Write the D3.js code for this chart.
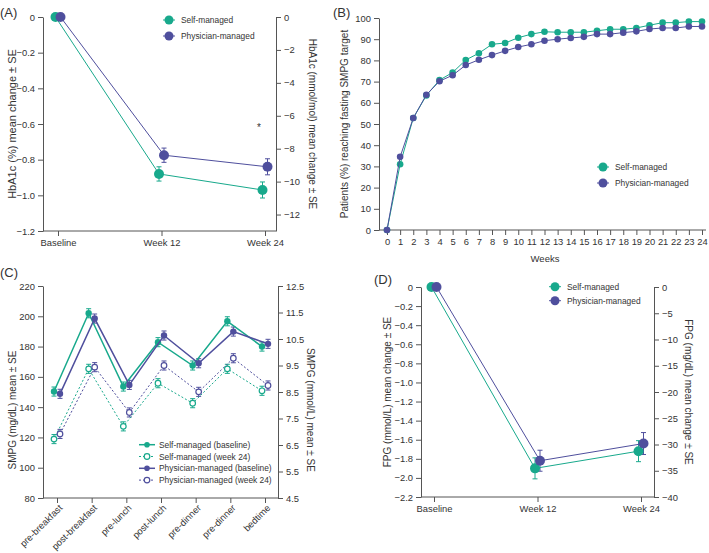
<!DOCTYPE html>
<html><head><meta charset="utf-8">
<script src="https://cdn.jsdelivr.net/npm/d3@7"></script>
<style>
body{margin:0;background:#fff;}
svg text{font-family:"Liberation Sans",Arial,sans-serif;fill:#333;}
.axis path,.axis line{stroke:#555;stroke-width:1;}
.axis text{font-size:9.4px;fill:#333;}
</style></head><body>
<svg id="chart" width="709" height="553"></svg>
<script>
// ---------- DATA ----------
const seriesNames = ["Self-managed", "Physician-managed"];
// Panel A: HbA1c change
const weeksAD = [0, 12, 24];
const weekLabelsAD = ["Baseline", "Week 12", "Week 24"];
const hba1cSelf = [0, -0.88, -0.97];
const hba1cSelfSE = [0, 0.04, 0.045];
const hba1cPhys = [0, -0.775, -0.84];
const hba1cPhysSE = [0, 0.04, 0.045];
const hba1cLeftTicks = [0, -0.2, -0.4, -0.6, -0.8, -1.0, -1.2];
const hba1cRightTicks = [0, -2, -4, -6, -8, -10, -12];
// Panel B: % reaching target by week
const weeksB = [0,1,2,3,4,5,6,7,8,9,10,11,12,13,14,15,16,17,18,19,20,21,22,23,24];
const targetSelf = [0,31,52.8,63.5,70.7,74.3,80.2,83.4,87.6,88.2,90.7,92.4,93.5,93.3,93.3,93.3,94,94.7,94.7,95.3,96.6,97.8,97.8,98.3,98.3];
const targetPhys = [0,34.5,52.8,63.8,70.2,73,77.8,80.3,82.5,84.5,86.3,87.6,89.3,90,90.6,91.1,92.4,92.4,93.1,93.7,94.8,95.3,95.3,96,96];
const targetTicks = [0,10,20,30,40,50,60,70,80,90,100];
// Panel C: SMPG profiles
const timepoints = ["pre-breakfast","post-breakfast","pre-lunch","post-lunch","pre-dinner","pre-dinner","bedtime"];
const smpgSelfBase = [150.3,202,153.6,182.9,167.5,196.7,180];
const smpgSelfW24  = [118.9,165.3,127.3,155.8,142.6,165.3,150.8];
const smpgPhysBase = [148.8,198.5,154.7,187.3,169,189.9,181.8];
const smpgPhysW24  = [122.3,166.4,136.5,167.5,150.1,172.3,154.3];
const smpgSE = 3;
const smpgLeftTicks = [80,100,120,140,160,180,200,220];
const smpgRightTicks = [4.5,5.5,6.5,7.5,8.5,9.5,10.5,11.5,12.5];
const smpgLegend = ["Self-managed (baseline)","Self-managed (week 24)","Physician-managed (baseline)","Physician-managed (week 24)"];
// Panel D: FPG change
const fpgSelf = [0, -1.90, -1.72];
const fpgSelfSE = [0, 0.11, 0.11];
const fpgPhys = [0, -1.82, -1.64];
const fpgPhysSE = [0, 0.11, 0.115];
const fpgLeftTicks = [0,-0.2,-0.4,-0.6,-0.8,-1.0,-1.2,-1.4,-1.6,-1.8,-2.0,-2.2];
const fpgRightTicks = [0,-5,-10,-15,-20,-25,-30,-35,-40];

// ---------- STYLE ----------
const TEAL = "#18a98c", PURPLE = "#4f4f9d";
const svg = d3.select("#chart");
const fmt1 = d => d === 0 ? "0" : d3.format(".1f")(d);
const fmt0 = d => d3.format("d")(d);

function label(x, y, txt, rot, size) {
  svg.append("text").attr("transform", `translate(${x},${y}) rotate(${rot||0})`)
    .attr("text-anchor", "middle").attr("dominant-baseline", "central")
    .style("font-size", (size||10) + "px").text(txt);
}
function panelTag(x, y, t) {
  svg.append("text").attr("x", x).attr("y", y).style("font-size", "13px").attr("dominant-baseline","central").text(t);
}
function errBars(g, xs, ys, ses, x, y, color, dx, cap) {
  const d = xs.map((v, i) => ({x: v, y: ys[i], se: ses[i]})).filter(p => p.se > 0);
  const eg = g.append("g").attr("stroke", color).attr("stroke-width", 1).attr("fill", "none");
  d.forEach(p => {
    const cx = x(p.x) + dx;
    eg.append("line").attr("x1", cx).attr("x2", cx).attr("y1", y(p.y - p.se)).attr("y2", y(p.y + p.se));
    eg.append("line").attr("x1", cx - cap).attr("x2", cx + cap).attr("y1", y(p.y - p.se)).attr("y2", y(p.y - p.se));
    eg.append("line").attr("x1", cx - cap).attr("x2", cx + cap).attr("y1", y(p.y + p.se)).attr("y2", y(p.y + p.se));
  });
}
function series(g, xs, ys, x, y, color, dx, r, opts) {
  opts = opts || {};
  const line = d3.line().x((d, i) => x(xs[i]) + dx).y(d => y(d));
  g.append("path").datum(ys).attr("d", line).attr("fill", "none").attr("stroke", color)
    .attr("stroke-width", opts.sw || 1).attr("stroke-dasharray", opts.dash || null);
  g.selectAll(null).data(ys).join("circle")
    .attr("cx", (d, i) => x(xs[i]) + dx).attr("cy", d => y(d)).attr("r", r)
    .attr("fill", opts.open ? "#fff" : color).attr("stroke", color).attr("stroke-width", opts.open ? 1.2 : 0);
}
function legendRow(x, y, color, txt, r, opts) {
  opts = opts || {};
  svg.append("line").attr("x1", x - (opts.half||6)).attr("x2", x + (opts.half||6)).attr("y1", y).attr("y2", y)
    .attr("stroke", color).attr("stroke-width", opts.sw || 1).attr("stroke-dasharray", opts.dash || null);
  svg.append("circle").attr("cx", x).attr("cy", y).attr("r", r)
    .attr("fill", opts.open ? "#fff" : color).attr("stroke", color).attr("stroke-width", opts.open ? 1.2 : 0);
  svg.append("text").attr("x", x + (opts.tx||12)).attr("y", y).attr("dominant-baseline", "central")
    .style("font-size", "8.4px").text(txt);
}

// ---------- PANEL A ----------
(function() {
  const x = d3.scaleLinear().domain([0, 24]).range([58, 265]);
  const y = d3.scaleLinear().domain([-1.2, 0]).range([231, 17]);
  const yr = d3.scaleLinear().domain([-13, 0]).range([231, 17]);
  const g = svg.append("g");
  g.append("g").attr("class", "axis").attr("transform", "translate(43,0)")
    .call(d3.axisLeft(y).tickValues(hba1cLeftTicks).tickFormat(fmt1).tickSize(5).tickSizeOuter(0));
  g.append("g").attr("class", "axis").attr("transform", "translate(276,0)")
    .call(d3.axisRight(yr).tickValues(hba1cRightTicks).tickFormat(fmt0).tickSize(5).tickSizeOuter(0));
  const xa = g.append("g").attr("class", "axis").attr("transform", "translate(0,231)");
  xa.call(d3.axisBottom(x).tickValues(weeksAD).tickFormat((d, i) => weekLabelsAD[i]).tickSize(5).tickSizeOuter(0));
  xa.select(".domain").remove();
  xa.append("line").attr("x1", 43).attr("x2", 276).attr("stroke", "#555");
  errBars(g, weeksAD, hba1cPhys, hba1cPhysSE, x, y, PURPLE, 2.5, 2.5);
  errBars(g, weeksAD, hba1cSelf, hba1cSelfSE, x, y, TEAL, -2.5, 2.5);
  series(g, weeksAD, hba1cSelf, x, y, TEAL, -2.5, 5);
  series(g, weeksAD, hba1cPhys, x, y, PURPLE, 2.5, 5);
  g.append("text").attr("x", x(24) - 6).attr("y", y(-0.64)).attr("text-anchor", "middle")
    .style("font-size", "10px").text("*");
  label(12, 124, "HbA1c (%) mean change ± SE", -90, 11);
  label(312, 124, "HbA1c (mmol/mol) mean change ± SE", 90, 10);
  legendRow(169, 20, TEAL, seriesNames[0], 4.5);
  legendRow(169, 36, PURPLE, seriesNames[1], 4.5);
  panelTag(0, 12, "(A)");
})();

// ---------- PANEL B ----------
(function() {
  const x = d3.scaleLinear().domain([0, 24]).range([387, 702]);
  const y = d3.scaleLinear().domain([0, 100]).range([230, 18]);
  const g = svg.append("g");
  g.append("g").attr("class", "axis").attr("transform", "translate(379,0)")
    .call(d3.axisLeft(y).tickValues(targetTicks).tickFormat(fmt0).tickSize(5).tickSizeOuter(0));
  const xa = g.append("g").attr("class", "axis").attr("transform", "translate(0,230)");
  xa.call(d3.axisBottom(x).tickValues(weeksB).tickFormat(fmt0).tickSize(5).tickSizeOuter(0));
  xa.select(".domain").remove();
  xa.append("line").attr("x1", 379).attr("x2", 706).attr("stroke", "#555");
  series(g, weeksB, targetSelf, x, y, TEAL, 0, 3.3);
  series(g, weeksB, targetPhys, x, y, PURPLE, 0, 3.3);
  label(344, 124, "Patients (%) reaching fasting SMPG target", -90, 10);
  label(545, 258, "Weeks", 0, 9.5);
  legendRow(603, 167, TEAL, seriesNames[0], 4.5);
  legendRow(603, 183, PURPLE, seriesNames[1], 4.5);
  panelTag(333, 12, "(B)");
})();

// ---------- PANEL C ----------
(function() {
  const idx = timepoints.map((d, i) => i);
  const x = d3.scaleLinear().domain([0, 6]).range([57, 265]);
  const y = d3.scaleLinear().domain([80, 220]).range([498, 286]);
  const yr = d3.scaleLinear().domain([4.5, 12.5]).range([498, 286]);
  const g = svg.append("g");
  g.append("g").attr("class", "axis").attr("transform", "translate(43,0)")
    .call(d3.axisLeft(y).tickValues(smpgLeftTicks).tickFormat(fmt0).tickSize(5).tickSizeOuter(0));
  g.append("g").attr("class", "axis").attr("transform", "translate(278,0)")
    .call(d3.axisRight(yr).tickValues(smpgRightTicks).tickFormat(d3.format(".1f")).tickSize(5).tickSizeOuter(0));
  const xa = g.append("g").attr("class", "axis").attr("transform", "translate(0,498)");
  xa.call(d3.axisBottom(x).tickValues(idx).tickFormat(i => timepoints[i]).tickSize(5).tickSizeOuter(0));
  xa.select(".domain").remove();
  xa.append("line").attr("x1", 43).attr("x2", 278).attr("stroke", "#555");
  xa.selectAll(".tick text").attr("text-anchor", "end").attr("dy", null).attr("y", 0)
    .attr("transform", "translate(3,8) rotate(-45)").attr("dominant-baseline", "central");
  const se = timepoints.map(() => smpgSE);
  errBars(g, idx, smpgSelfW24, se, x, y, TEAL, -3, 2.5);
  errBars(g, idx, smpgPhysW24, se, x, y, PURPLE, 3, 2.5);
  errBars(g, idx, smpgSelfBase, se, x, y, TEAL, -3, 2.5);
  errBars(g, idx, smpgPhysBase, se, x, y, PURPLE, 3, 2.5);
  series(g, idx, smpgSelfW24, x, y, TEAL, -3, 2.8, {open: true, dash: "2,2"});
  series(g, idx, smpgPhysW24, x, y, PURPLE, 3, 2.8, {open: true, dash: "2,2"});
  series(g, idx, smpgSelfBase, x, y, TEAL, -3, 3.2, {sw: 1.5});
  series(g, idx, smpgPhysBase, x, y, PURPLE, 3, 3.2, {sw: 1.5});
  label(12, 410, "SMPG (mg/dL) mean ± SE", -90, 10);
  label(310, 410, "SMPG (mmol/L) mean ± SE", 90, 10);
  legendRow(147, 444.7, TEAL, smpgLegend[0], 2.8, {sw: 1.5, half: 8});
  legendRow(147, 456.5, TEAL, smpgLegend[1], 2.8, {open: true, dash: "2,2", half: 8});
  legendRow(147, 468.3, PURPLE, smpgLegend[2], 2.8, {sw: 1.5, half: 8});
  legendRow(147, 480.1, PURPLE, smpgLegend[3], 2.8, {open: true, dash: "2,2", half: 8});
  panelTag(0, 272, "(C)");
})();

// ---------- PANEL D ----------
(function() {
  const x = d3.scaleLinear().domain([0, 24]).range([434, 641]);
  const y = d3.scaleLinear().domain([-2.2, 0]).range([497, 287]);
  const yr = d3.scaleLinear().domain([-40, 0]).range([497, 287]);
  const g = svg.append("g");
  g.append("g").attr("class", "axis").attr("transform", "translate(421,0)")
    .call(d3.axisLeft(y).tickValues(fpgLeftTicks).tickFormat(fmt1).tickSize(5).tickSizeOuter(0));
  g.append("g").attr("class", "axis").attr("transform", "translate(654,0)")
    .call(d3.axisRight(yr).tickValues(fpgRightTicks).tickFormat(fmt0).tickSize(5).tickSizeOuter(0));
  const xa = g.append("g").attr("class", "axis").attr("transform", "translate(0,497)");
  xa.call(d3.axisBottom(x).tickValues(weeksAD).tickFormat((d, i) => weekLabelsAD[i]).tickSize(5).tickSizeOuter(0));
  xa.select(".domain").remove();
  xa.append("line").attr("x1", 421).attr("x2", 654).attr("stroke", "#555");
  errBars(g, weeksAD, fpgSelf, fpgSelfSE, x, y, TEAL, -2.5, 2.5);
  errBars(g, weeksAD, fpgPhys, fpgPhysSE, x, y, PURPLE, 2.5, 2.5);
  series(g, weeksAD, fpgSelf, x, y, TEAL, -2.5, 5);
  series(g, weeksAD, fpgPhys, x, y, PURPLE, 2.5, 5);
  label(387, 392, "FPG (mmol/L) mean change ± SE", -90, 10);
  label(688, 392, "FPG (mg/dL) mean change ± SE", 90, 10);
  legendRow(555, 286.7, TEAL, seriesNames[0], 4.5);
  legendRow(555, 300.7, PURPLE, seriesNames[1], 4.5);
  panelTag(374, 279, "(D)");
})();
</script>
</body></html>
